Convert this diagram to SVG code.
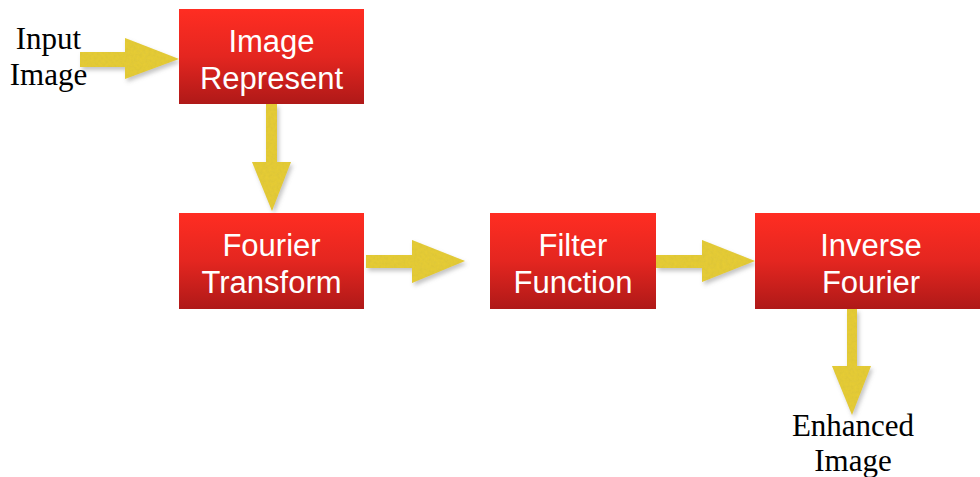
<svg xmlns="http://www.w3.org/2000/svg" width="980" height="477" viewBox="0 0 980 477">
  <defs>
    <linearGradient id="boxFill" x1="0" y1="0" x2="0" y2="1">
      <stop offset="0" stop-color="#FF2D22"/>
      <stop offset="0.5" stop-color="#E42620"/>
      <stop offset="1" stop-color="#AF1918"/>
    </linearGradient>
    <!-- soft drop shadow with a light mottled texture for the yellow arrows -->
    <filter id="arrowFx" x="-20%" y="-20%" width="150%" height="150%">
      <feTurbulence type="fractalNoise" baseFrequency="0.35" numOctaves="2" seed="3" result="noise"/>
      <feColorMatrix in="noise" type="matrix" values="0 0 0 0 0.55  0 0 0 0 0.45  0 0 0 0 0.05  0 0 0 0.35 0" result="tint"/>
      <feComposite in="tint" in2="SourceGraphic" operator="in" result="grain"/>
      <feGaussianBlur in="SourceAlpha" stdDeviation="2" result="blur"/>
      <feOffset in="blur" dx="2" dy="3" result="off"/>
      <feColorMatrix in="off" type="matrix" values="0 0 0 0 0.2  0 0 0 0 0.2  0 0 0 0 0.2  0 0 0 0.45 0" result="shadow"/>
      <feMerge>
        <feMergeNode in="shadow"/>
        <feMergeNode in="SourceGraphic"/>
        <feMergeNode in="grain"/>
      </feMerge>
    </filter>
  </defs>
  <style>
    .box { fill: url(#boxFill); }
    .label { font-family: "Liberation Sans", Arial, sans-serif; font-size: 31px; fill: #FFFFFF; text-anchor: middle; }
    .plain { font-family: "Liberation Serif", "Times New Roman", serif; font-size: 31px; fill: #000000; text-anchor: middle; }
    .arrow { fill: #E8CE36; filter: url(#arrowFx); }
  </style>

  <rect width="980" height="477" fill="#FFFFFF"/>

  <!-- connectors -->
  <g id="connectors">
    <polygon class="arrow" points="80,52 125,52 125,38 179,59 125,79 125,67 80,67"/>
    <polygon class="arrow" points="266,104 277,104 277,162 291,162 272,211 252,162 266,162"/>
    <polygon class="arrow" points="366,255 412,255 412,240 465,261 412,283 412,268 366,268"/>
    <polygon class="arrow" points="656,255 702,255 702,240 755,261 702,282 702,268 656,268"/>
    <polygon class="arrow" points="847,309 857,309 857,366 871,366 852,415 832,366 847,366"/>
  </g>

  <g id="input-label">
    <text class="plain" x="48.5" y="49">Input</text>
    <text class="plain" x="48.5" y="85">Image</text>
  </g>

  <g id="image-represent">
    <rect class="box" x="179" y="9" width="185" height="95"/>
    <text class="label" x="271.5" y="52">Image</text>
    <text class="label" x="271.5" y="89">Represent</text>
  </g>

  <g id="fourier-transform">
    <rect class="box" x="179" y="213" width="185" height="96"/>
    <text class="label" x="271.5" y="256">Fourier</text>
    <text class="label" x="271.5" y="293">Transform</text>
  </g>

  <g id="filter-function">
    <rect class="box" x="490" y="213" width="166" height="96"/>
    <text class="label" x="573" y="256">Filter</text>
    <text class="label" x="573" y="293">Function</text>
  </g>

  <g id="inverse-fourier">
    <rect class="box" x="755" y="213" width="240" height="96"/>
    <text class="label" x="871" y="256">Inverse</text>
    <text class="label" x="871" y="293">Fourier</text>
  </g>

  <g id="output-label">
    <text class="plain" x="853" y="436">Enhanced</text>
    <text class="plain" x="853" y="471">Image</text>
  </g>
</svg>
